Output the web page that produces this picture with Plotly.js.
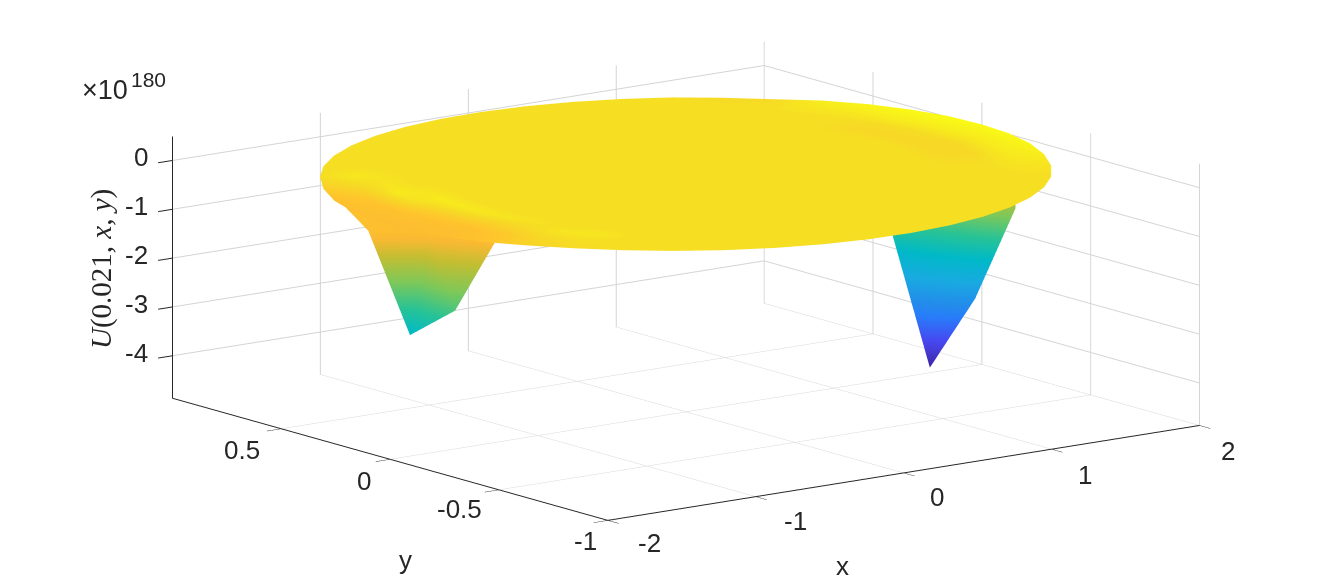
<!DOCTYPE html>
<html><head><meta charset="utf-8">
<script src="https://cdn.plot.ly/plotly-3.0.1.min.js"></script>
<style>html,body{margin:0;padding:0;background:#fff}#plot{width:1326px;height:583px}</style>
</head><body><div id="plot"></div>
<script>
var discRadii=[0,0.66,0.74,0.82,0.90,1.0];
var discAngles=[0,8,16,24,32,40,48,56,64,72,80,88,96,104,112,120,128,136,144,152,160,168,176,184,192,200,208,216,224,232,240,248,256,264,272,280,288,296,304,312,320,328,336,344,352,360];
var ringCentre=[0,0,0,0,0,0,0,0,0,0,0,0,0,0,0,0,0,0,0,0,0,0,0,0,0,0,0,0,0,0,0,0,0,0,0,0,0,0,0,0,0,0,0,0,0,0];
var ring66=[0,0,0,0,0,0,0,0,0,0,0,0,0,0,0,0,0,0,0,0,0,0,0,0,0,0,0,0,0,0,0,0,0,0,0,0,0,0,0,0,0,0,0,0,0,0];
var ring74=[-.012,-.012,-.01,0,0,0,0,0,0,0,0,0,0,0,0,0,0,0,0,0,.01,.02,.02,.015,.01,.005,0,0,0,0,0,0,0,0,0,0,0,0,0,0,0,0,-.005,-.012,-.012,-.012];
var ring82=[-.005,-.005,-.005,0,0,0,0,0,0,0,0,0,0,0,0,0,0,0,.005,.01,.02,0,-.025,-.03,-.03,-.015,.01,.015,0,0,0,0,0,0,0,0,0,0,0,0,0,0,-.005,-.012,-.012,-.005];
var ring90=[.025,.025,.025,.015,.01,0,0,0,0,0,0,0,0,0,0,0,0,0,.015,-.01,-.035,-.05,-.055,-.06,-.06,-.04,-.01,0,0,0,0,0,0,0,0,0,0,0,0,0,0,.005,.015,.02,.02,.025];
var ring100=[.045,.05,.045,.04,.025,-.008,-.008,0,0,0,0,0,0,0,0,0,0,0,0,-.03,-.055,-.065,-.07,-.07,-.065,-.05,-.02,-.005,0,0,0,0,0,0,0,0,0,0,0,0,0,.01,.025,.04,.045,.045];
var discZ=[ringCentre,ring66,ring74,ring82,ring90,ring100];

// left spike vertices: W, A, B, C, D, Q, then the same W, Q, D higher up, just under the disc
var leftSpikeX=[-1.603,-1.995,-1.979,-1.92,-1.527,-1.744,-1.603,-1.744,-1.527];
var leftSpikeY=[0.558,0.104,-0.077,-0.244,-0.17,-0.01,0.558,-0.01,-0.17];
var leftSpikeZ=[-0.22,-0.32,-2.24,-1.56,-0.37,-0.40,-0.1,-0.12,-0.12];
var leftFaceI=[0,1,2,3,0,0,5,5];
var leftFaceJ=[1,2,3,4,5,7,4,8];
var leftFaceK=[5,5,5,5,7,6,8,7];
var rightSpikeX=[[1.234,1.58],[1.234,1.58],[1.045,1.40]];
var rightSpikeY=[[-0.112,-0.44],[-0.112,-0.44],[-0.41,-0.377]];
var rightSpikeZ=[[-0.22,-0.22],[-1.74,-0.92],[-3.96,-2.76]];

var xTicks=[-2,-1,0,1,2], xTickText=['-2','-1','0','1','2'];
var yTicks=[-1,-0.5,0,0.5], yTickText=['-1','-0.5','0','0.5'];
var zTicks=[-4,-3,-2,-1,0], zTickText=['-4','-3','-2','-1','0'];

var parula=[[0,'rgb(62,38,168)'],[.1,'rgb(71,72,240)'],[.2,'rgb(40,125,250)'],[.25,'rgb(35,140,235)'],[.35,'rgb(25,170,225)'],[.45,'rgb(0,185,200)'],[.55,'rgb(40,195,150)'],[.65,'rgb(125,200,90)'],[.75,'rgb(195,190,50)'],[.82,'rgb(250,185,50)'],[.87,'rgb(255,195,45)'],[.93,'rgb(246,220,36)'],[1,'rgb(249,251,21)']];
var flat={ambient:1,diffuse:0,specular:0,fresnel:0,roughness:1};

var discX=discRadii.map(function(r){return discAngles.map(function(t){return 2*r*Math.cos(t*Math.PI/180);});});
var discY=discRadii.map(function(r){return discAngles.map(function(t){return 0.99*r*Math.sin(t*Math.PI/180);});});

function surf(x,y,z,cmin,cmax){return {type:'surface',x:x,y:y,z:z,cmin:cmin,cmax:cmax,colorscale:parula,showscale:false,hoverinfo:'skip',lighting:flat,
  contours:{x:{highlight:false},y:{highlight:false},z:{highlight:false}}};}
var leftMesh={type:'mesh3d',x:leftSpikeX,y:leftSpikeY,z:leftSpikeZ,i:leftFaceI,j:leftFaceJ,k:leftFaceK,intensity:leftSpikeZ,cmin:-4.38,cmax:0.40,colorscale:parula,showscale:false,hoverinfo:'skip',lighting:flat};
var traces=[surf(discX,discY,discZ,-0.7,0.05),leftMesh,surf(rightSpikeX,rightSpikeY,rightSpikeZ,-3.96,0.44)];

function ax(range,tv,tt){return {range:range,autorange:false,tickmode:'array',tickvals:tv,ticktext:tt,showticklabels:false,showgrid:true,gridcolor:'#d4d4d4',gridwidth:2,zeroline:false,showline:true,linecolor:'#262626',linewidth:2,ticks:'outside',ticklen:18,tickcolor:'#262626',tickwidth:2,showspikes:false,showbackground:false,title:{text:''}};}
var d=4;
var k=2.64;
var txtFont={family:'Liberation Sans, Arial, sans-serif',size:26,color:'#262626'};
var tickAnn=[];
function tick(x,y,z,text,xs,ys,anchor){tickAnn.push({x:x,y:y,z:z,text:text,showarrow:false,font:txtFont,xshift:xs,yshift:ys,xanchor:anchor,yanchor:'middle'});}
var xShift=[42,40,33,33,28], xDrop=[23,24,24.5,26,26];
xTicks.forEach(function(v,i){tick(v,-1,-4.87,xTickText[i],xShift[i],-xDrop[i],'center');});
var yShift=[-22,-39,-26,-39], yDrop=[21,19,22,21];
yTicks.forEach(function(v,i){tick(-2,v,-4.87,yTickText[i],yShift[i],-yDrop[i],'center');});
zTicks.forEach(function(v,i){tick(-2,1,v,zTickText[i],-22,3,'right');});

var layout={width:1326,height:583,margin:{l:0,r:0,t:0,b:0},paper_bgcolor:'#fff',showlegend:false,
 scene:{domain:{x:[0.0347,1],y:[0.036,1]},xaxis:ax([-2,2],xTicks,xTickText),yaxis:ax([-1,1],yTicks,yTickText),zaxis:ax([-4.87,0.49],zTicks,zTickText),
  aspectmode:'manual',aspectratio:{x:k,y:0.973*k,z:0.361*k},annotations:tickAnn,
  camera:{projection:{type:'orthographic'},up:{x:0,y:0,z:1},center:{x:0,y:0,z:0},eye:{x:-0.589*d,y:-0.779*d,z:0.212*d}}},
 annotations:[
  {xref:'paper',yref:'paper',x:842/1326,y:1-566/583,text:'x',showarrow:false,font:txtFont,xanchor:'center',yanchor:'middle'},
  {xref:'paper',yref:'paper',x:405/1326,y:1-560/583,text:'y',showarrow:false,font:txtFont,xanchor:'center',yanchor:'middle'},
  {xref:'paper',yref:'paper',x:130/1326,y:1-90/583,text:'×10',showarrow:false,font:{family:txtFont.family,size:27,color:'#262626'},xanchor:'right',yanchor:'middle'},
  {xref:'paper',yref:'paper',x:129/1326,y:1-80/583,text:'180',showarrow:false,font:{family:txtFont.family,size:21,color:'#262626'},xanchor:'left',yanchor:'middle'},
  {xref:'paper',yref:'paper',x:102/1326,y:1-269/583,text:'<i>U</i>(0.021, <i>x</i>, <i>y</i>)',textangle:-90,showarrow:false,font:{family:'Liberation Serif, serif',size:29,color:'#262626'},xanchor:'center',yanchor:'middle'}
 ]};
Plotly.newPlot('plot',traces,layout,{displayModeBar:false});
</script></body></html>
